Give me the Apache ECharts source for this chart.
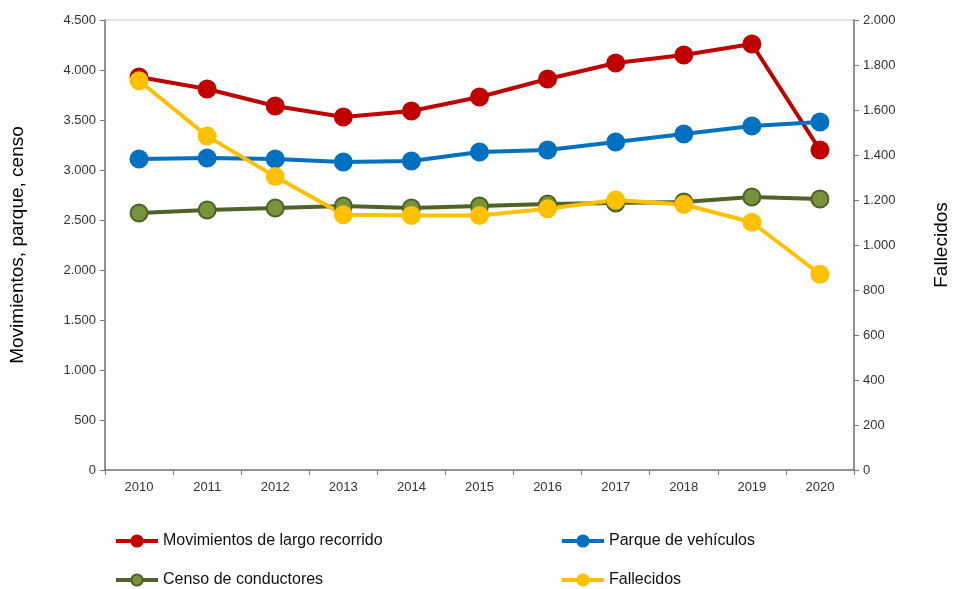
<!DOCTYPE html>
<html>
<head>
<meta charset="utf-8">
<script src="https://cdn.jsdelivr.net/npm/echarts@6/dist/echarts.min.js"></script>
<style>
  html, body { margin: 0; padding: 0; background: #fff; }
  #chart { width: 953px; height: 589px; }
</style>
</head>
<body>
<div id="chart"></div>
<script>
var years = ['2010','2011','2012','2013','2014','2015','2016','2017','2018','2019','2020'];
var movimientos = [3930, 3810, 3640, 3530, 3590, 3730, 3910, 4070, 4150, 4260, 3200];
var parque = [3110, 3120, 3110, 3080, 3090, 3180, 3200, 3280, 3360, 3440, 3480];
var censo = [2570, 2600, 2620, 2640, 2620, 2640, 2660, 2670, 2680, 2730, 2710];
var fallecidos = [1730, 1484, 1304, 1134, 1131, 1131, 1161, 1200, 1180, 1101, 870];

// separador de miles con punto
function fmt(v) {
  return String(v).replace(/\B(?=(\d{3})+(?!\d))/g, '.');
}

var font = 'Liberation Sans, Arial, sans-serif';
var chart = echarts.init(document.getElementById('chart'));

function serie(name, data, color, border, yIdx) {
  return {
    name: name,
    type: 'line',
    yAxisIndex: yIdx,
    data: data,
    symbol: 'circle',
    symbolSize: 17,
    lineStyle: { width: 4, color: border },
    itemStyle: { color: color, borderColor: border, borderWidth: 2 },
    emphasis: { disabled: true },
    z: 2
  };
}

// una leyenda por elemento, en dos columnas
function leyenda(name, left, top) {
  return {
    left: left, top: top, padding: 0,
    itemWidth: 42, itemHeight: 14,
    lineStyle: { width: 4 },
    textStyle: { fontSize: 16, color: '#111', fontFamily: font },
    data: [name]
  };
}

var option = {
  animation: false,
  textStyle: { fontFamily: font },
  grid: {
    left: 105, right: 99, top: 20, height: 450,
    outerBoundsMode: 'none',
    show: true, borderColor: '#c8c8c8', borderWidth: 1
  },
  legend: [
    leyenda('Movimientos de largo recorrido', 114, 533),
    leyenda('Censo de conductores', 114, 572),
    leyenda('Parque de vehículos', 560, 533),
    leyenda('Fallecidos', 560, 572)
  ],
  xAxis: {
    type: 'category',
    data: years,
    boundaryGap: true,
    axisLine: { lineStyle: { color: '#777', width: 1.5 } },
    axisTick: { show: true, length: 5, lineStyle: { color: '#777' } },
    axisLabel: { fontSize: 13, color: '#333', margin: 11 }
  },
  yAxis: [
    {
      type: 'value', min: 0, max: 4500, interval: 500,
      name: 'Movimientos, parque, censo',
      nameLocation: 'middle', nameRotate: 90, nameGap: 78,
      nameTextStyle: { fontSize: 19, color: '#000' },
      axisLine: { show: true, lineStyle: { color: '#777', width: 1.5 } },
      axisTick: { show: true, length: 5, lineStyle: { color: '#777' } },
      splitLine: { show: false },
      axisLabel: { fontSize: 13, color: '#333', margin: 9, formatter: fmt }
    },
    {
      type: 'value', min: 0, max: 2000, interval: 200,
      name: 'Fallecidos', position: 'right',
      nameLocation: 'middle', nameRotate: 90, nameGap: 78,
      nameTextStyle: { fontSize: 19, color: '#000' },
      axisLine: { show: true, lineStyle: { color: '#777', width: 1.5 } },
      axisTick: { show: true, length: 5, lineStyle: { color: '#777' } },
      splitLine: { show: false },
      axisLabel: { fontSize: 13, color: '#333', margin: 9, formatter: fmt }
    }
  ],
  series: [
    serie('Movimientos de largo recorrido', movimientos, '#c00000', '#c00000', 0),
    serie('Parque de vehículos', parque, '#0070c0', '#0070c0', 0),
    serie('Censo de conductores', censo, '#77933c', '#4f6228', 0),
    serie('Fallecidos', fallecidos, '#ffc000', '#ffc000', 1)
  ]
};

chart.setOption(option);
</script>
</body>
</html>
